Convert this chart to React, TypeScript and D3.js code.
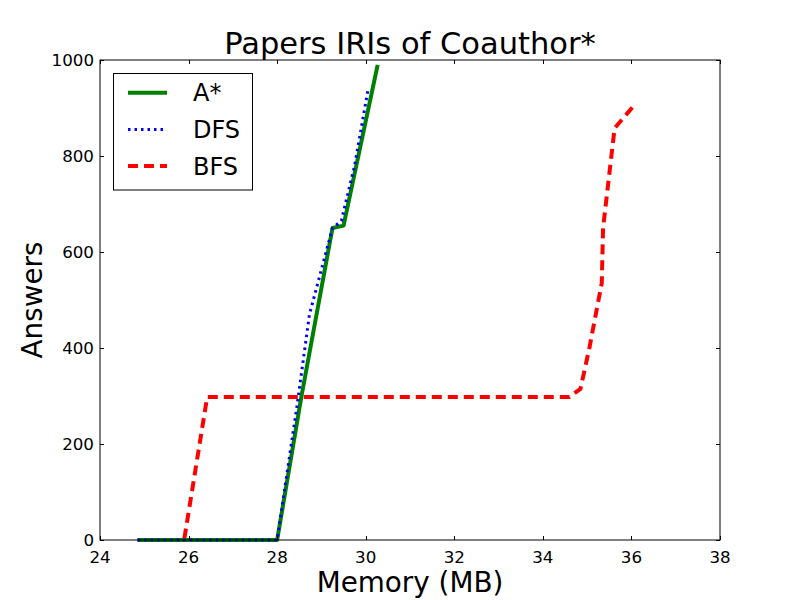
import React, { useEffect, useRef } from 'react';
import * as d3 from 'd3';

// memory (MB) / answers
const astarX = [24.85, 28.0, 28.55, 29.25, 29.5, 30.27];
const astarY = [0, 0, 300, 650, 655, 990];
const dfsX = [24.85, 28.0, 28.45, 28.73, 29.25, 29.45, 29.75, 30.05];
const dfsY = [0, 0, 280, 470, 650, 665, 780, 937];
const bfsX = [24.85, 25.9, 26.42, 34.6, 34.85, 35.05, 35.33, 35.36, 35.62, 36.03];
const bfsY = [0, 0, 298, 298, 315, 400, 535, 650, 858, 902];
const xTicks = [24, 26, 28, 30, 32, 34, 36, 38];
const yTicks = [0, 200, 400, 600, 800, 1000];

const series = [
  { name: 'A*', xs: astarX, ys: astarY, color: 'green', width: 4, dash: null },
  { name: 'DFS', xs: dfsX, ys: dfsY, color: 'blue', width: 3, dash: '2.5 4' },
  { name: 'BFS', xs: bfsX, ys: bfsY, color: 'red', width: 4, dash: '10 6' },
];

const App = () => {
  const ref = useRef<SVGSVGElement>(null);

  useEffect(() => {
    const svg = d3.select(ref.current);
    svg.selectAll('*').remove();
    const font = 'DejaVu Sans, sans-serif';
    const left = 100, right = 720, top = 60, bottom = 540;

    const x = d3.scaleLinear().domain([24, 38]).range([left, right]);
    const y = d3.scaleLinear().domain([0, 1000]).range([bottom, top]);

    svg.append('rect').attr('width', 800).attr('height', 600).attr('fill', 'white');

    const g = svg.append('g');

    const clip = svg.append('clipPath').attr('id', 'plotclip');
    clip.append('rect').attr('x', left).attr('y', top - 2).attr('width', right - left).attr('height', bottom - top + 4);

    const line = d3.line<[number, number]>().x(d => x(d[0])).y(d => y(d[1]));

    // draw BFS first, then DFS, then A* on top? A* appears drawn under DFS in places
    const order = [series[2], series[0], series[1]];
    order.forEach(s => {
      const pts = s.xs.map((v, i) => [v, s.ys[i]] as [number, number]);
      g.append('path')
        .attr('d', line(pts))
        .attr('fill', 'none')
        .attr('stroke', s.color)
        .attr('stroke-width', s.width)
        .attr('stroke-dasharray', s.dash)
        .attr('stroke-linejoin', 'round')
        .attr('clip-path', 'url(#plotclip)');
    });

    // frame
    g.append('rect')
      .attr('x', left).attr('y', top)
      .attr('width', right - left).attr('height', bottom - top)
      .attr('fill', 'none').attr('stroke', 'black').attr('stroke-width', 1);

    // ticks, inward on all four sides
    xTicks.forEach(t => {
      const px = Math.round(x(t)) + 0.5;
      g.append('line').attr('x1', px).attr('x2', px).attr('y1', bottom).attr('y2', bottom - 4).attr('stroke', 'black');
      g.append('line').attr('x1', px).attr('x2', px).attr('y1', top).attr('y2', top + 4).attr('stroke', 'black');
      g.append('text').attr('x', x(t)).attr('y', bottom + 23)
        .attr('text-anchor', 'middle').attr('font-family', font).attr('font-size', 16.7).text(t);
    });
    yTicks.forEach(t => {
      const py = Math.round(y(t)) + 0.5;
      g.append('line').attr('x1', left).attr('x2', left + 4).attr('y1', py).attr('y2', py).attr('stroke', 'black');
      g.append('line').attr('x1', right).attr('x2', right - 4).attr('y1', py).attr('y2', py).attr('stroke', 'black');
      g.append('text').attr('x', left - 6).attr('y', y(t) + 6)
        .attr('text-anchor', 'end').attr('font-family', font).attr('font-size', 16.7).text(t);
    });

    // title and axis labels
    svg.append('text').attr('x', 410).attr('y', 54).attr('text-anchor', 'middle')
      .attr('font-family', font).attr('font-size', 30.5).text('Papers IRIs of Coauthor*');
    svg.append('text').attr('x', 410).attr('y', 592).attr('text-anchor', 'middle')
      .attr('font-family', font).attr('font-size', 27.8).text('Memory (MB)');
    svg.append('text').attr('transform', 'translate(42,300) rotate(-90)').attr('text-anchor', 'middle')
      .attr('font-family', font).attr('font-size', 27.8).text('Answers');

    // legend
    const leg = svg.append('g');
    leg.append('rect').attr('x', 113.5).attr('y', 73.5).attr('width', 139).attr('height', 116.5)
      .attr('fill', 'white').attr('stroke', 'black').attr('stroke-width', 1);
    series.forEach((s, i) => {
      const ly = 92.7 + i * 36.7;
      leg.append('line').attr('x1', 128).attr('x2', 167).attr('y1', ly).attr('y2', ly)
        .attr('stroke', s.color).attr('stroke-width', s.width).attr('stroke-dasharray', s.dash);
      leg.append('text').attr('x', 193).attr('y', ly + 8.5)
        .attr('font-family', font).attr('font-size', 24).text(s.name);
    });
  }, []);

  return <svg ref={ref} width={800} height={600} style={{ position: 'absolute', left: 0, top: 0 }} />;
};

export default App;
